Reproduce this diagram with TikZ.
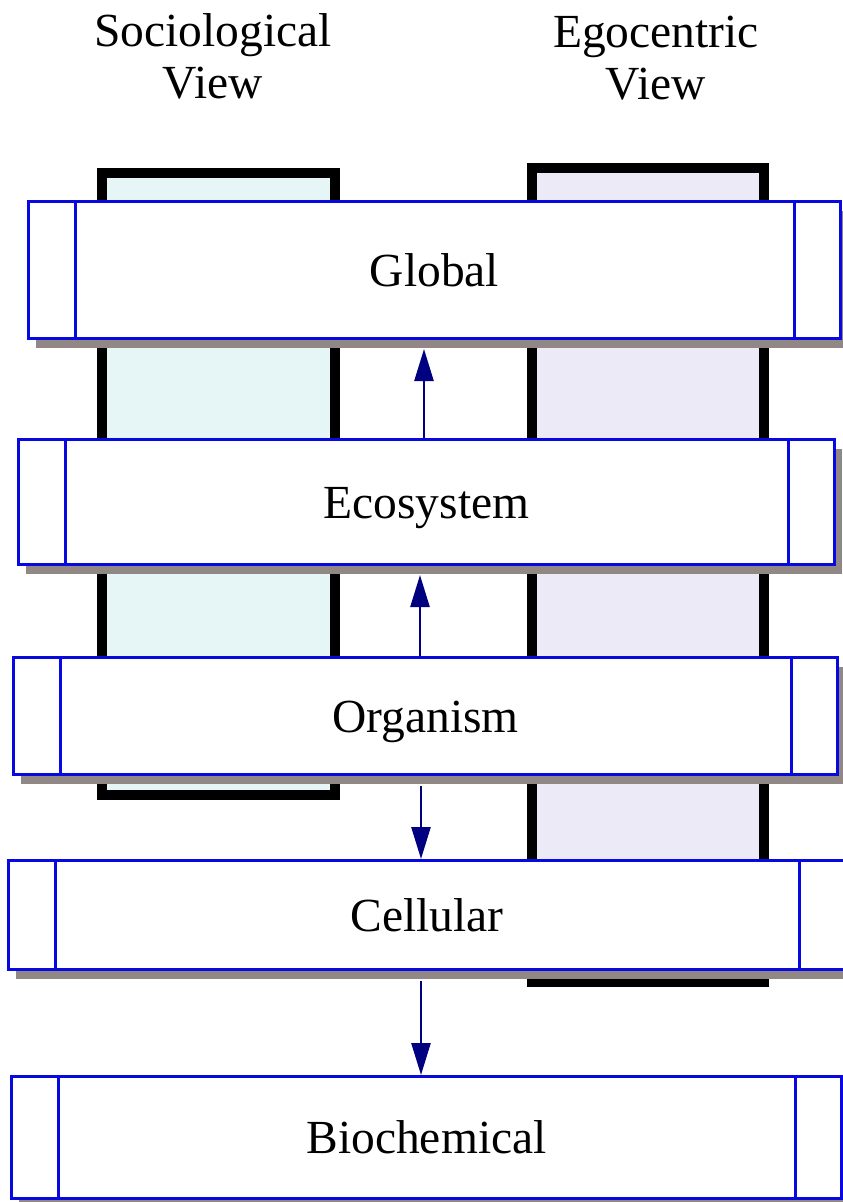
\documentclass[tikz,border=0pt]{standalone}
\usepackage{fontspec}
\setmainfont{Liberation Serif}
\usetikzlibrary{arrows.meta,shadows}

\definecolor{boxblue}{RGB}{8,8,225}
\definecolor{arrownavy}{RGB}{0,0,128}
\definecolor{shadowgray}{RGB}{145,136,134}
\definecolor{socfill}{RGB}{230,246,247}
\definecolor{egofill}{RGB}{236,234,247}

\tikzset{
  bigtext/.style={font=\fontsize{47.5}{52}\selectfont},
  viewcolumn/.style={draw=black, line width=10pt, inner sep=0pt},
  level/.style={bigtext, draw=boxblue, line width=3pt, fill=white, inner sep=0pt,
    text height=34pt, text depth=2pt,
    drop shadow={shadow xshift=7pt, shadow yshift=-9pt, fill=shadowgray, opacity=1}},
  title/.style={bigtext, align=center, inner sep=0pt},
  flow/.style={draw=arrownavy, line width=2.5pt, -{Triangle[length=32pt,width=19pt]}},
  divider/.style={draw=boxblue, line width=3pt}
}

\begin{document}
\begin{tikzpicture}[x=1pt, y=-1pt]
\useasboundingbox (0,0) rectangle (843,1202);

% column headings
\node[title] (soctitle) at (213,56.5) {Sociological\\View};
\node[title] (egotitle) at (656,58) {Egocentric\\View};

% the two view columns behind the levels
\node[viewcolumn, fill=socfill, minimum width=233pt, minimum height=622pt] (soc) at (218.5,484) {};
\node[viewcolumn, fill=egofill, minimum width=232pt, minimum height=814pt] (ego) at (648,575) {};

% levels, top to bottom
\node[level, minimum width=812pt, minimum height=137pt] (glob) at (434.5,270) {Global};
\node[level, minimum width=816pt, minimum height=125pt] (eco) at (426.5,502) {Ecosystem};
\node[level, minimum width=824pt, minimum height=117pt] (org) at (425.5,716) {Organism};
\node[level, minimum width=837.5pt, minimum height=109pt] (cell) at (427.25,915) {Cellular};
\node[level, minimum width=830pt, minimum height=122pt] (bio) at (426.5,1137.5) {Biochemical};

% side panels of each level
\foreach \n in {glob,eco,org,cell,bio}{
  \draw[divider] ([xshift=48pt]\n.north west) -- ([xshift=48pt]\n.south west);
  \draw[divider] ([xshift=-48pt]\n.north east) -- ([xshift=-48pt]\n.south east);
}

% connectors
\coordinate (c1) at (424,0);
\coordinate (c2) at (420,0);
\coordinate (c3) at (421,0);
\coordinate (c4) at (421,0);
\draw[flow] (eco.north -| c1) -- ([yshift=-9pt]glob.south -| c1);
\draw[flow] (org.north -| c2) -- ([yshift=-9pt]eco.south -| c2);
\draw[flow] ([yshift=-10pt]org.south -| c3) -- (cell.north -| c3);
\draw[flow] ([yshift=-10pt]cell.south -| c4) -- (bio.north -| c4);
\end{tikzpicture}
\end{document}
